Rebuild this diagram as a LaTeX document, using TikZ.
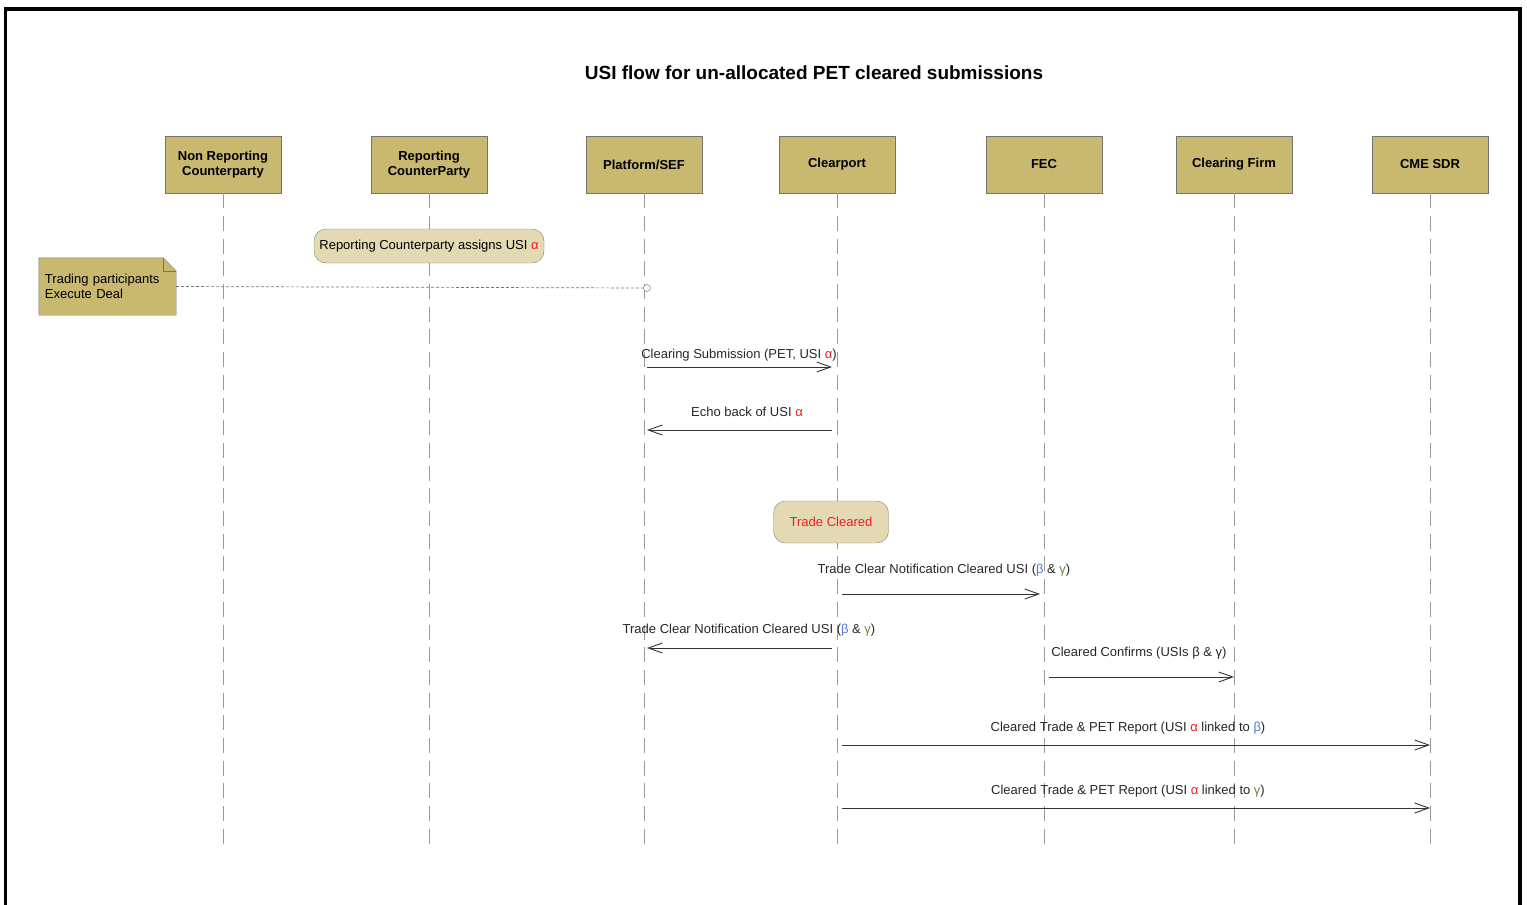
\documentclass[tikz,border=0pt]{standalone}
\usepackage{fontspec}
\setmainfont{Liberation Sans}
\usetikzlibrary{arrows.meta,positioning,calc,backgrounds}
\usepackage{xcolor}
\definecolor{boxtan}{RGB}{201,184,112}
\definecolor{paletan}{RGB}{227,218,180}
\definecolor{alphared}{RGB}{240,30,30}
\definecolor{betablue}{RGB}{80,120,210}
\definecolor{gammagreen}{RGB}{100,140,60}
\newcommand{\alred}{\textcolor{alphared}{α}}
\newcommand{\betblue}{\textcolor{betablue}{β}}
\newcommand{\gamgreen}{\textcolor{gammagreen}{γ}}

\begin{document}
\begin{tikzpicture}[
  x=1pt, y=-1pt,
  actor/.style={rectangle, draw=black!55, fill=boxtan, minimum width=116pt, minimum height=57pt, align=center, font=\fontsize{13}{15}\selectfont\bfseries},
  activity/.style={rectangle, draw=black!50, fill=paletan, rounded corners=12pt, minimum height=34pt, font=\fontsize{13}{15}\selectfont},
  notebox/.style={rectangle, minimum width=137pt, minimum height=57pt, text width=125pt, inner xsep=6pt, align=left, font=\fontsize{13}{15}\selectfont},
  lifeline/.style={draw=black!40, dash pattern=on 15pt off 7.7pt, line width=1pt},
  dotline/.style={draw=black!55, dash pattern=on 3pt off 2pt, line width=0.7pt},
  msg/.style={-{Straight Barb[length=14pt,width=10pt]}, draw=black!80, line width=0.9pt},
  lbl/.style={font=\fontsize{13}{15}\selectfont, inner sep=0pt, text=black!85}
]
  \useasboundingbox (0,0) rectangle (1527,905);
  \draw[line width=3.5pt] (5.5,905) -- (5.5,9) -- (1520,9) -- (1520,905);

  \node[font=\fontsize{19}{22}\selectfont\bfseries] (title) at (814,73) {USI flow for un-allocated PET cleared submissions};

  % actors
  \node[actor] (nrc) at (223,164.5) {Non Reporting\\Counterparty};
  \node[actor] (rc) at (429,164.5) {Reporting\\CounterParty};
  \node[actor] (sef) at (644,164.5) {Platform/SEF};
  \node[actor] (cp) at (837,164.5) {Clearport};
  \node[actor] (fec) at (1044,164.5) {FEC};
  \node[actor] (cf) at (1234,164.5) {Clearing Firm};
  \node[actor] (sdr) at (1430,164.5) {CME SDR};

  \coordinate (bottom) at (0,848);
  \foreach \a in {nrc,rc,sef,cp,fec,cf,sdr}
    \draw[lifeline] (\a.south) -- (\a.south |- bottom);

  \node[activity, minimum width=230pt] (assign) at (429,246) {Reporting Counterparty assigns USI \alred};
  \node[activity, minimum width=115pt, minimum height=42pt, text=alphared] (cleared) at (831,522) {Trade Cleared};

  % note
  \node[notebox] (note) at (107.5,286.5) {Trading participants\\Execute Deal};
  \begin{scope}[on background layer]
    \filldraw[fill=boxtan, draw=black!55] (note.north west) -- ([xshift=-13pt]note.north east) -- ([yshift=-13pt]note.north east) -- (note.south east) -- (note.south west) -- cycle;
  \end{scope}
  \draw[black!55] ([xshift=-13pt]note.north east) -- ([xshift=-13pt,yshift=-13pt]note.north east) -- ([yshift=-13pt]note.north east);
  \node[circle, draw=black!60, fill=white, inner sep=0pt, minimum size=7pt] (hit) at (647,288) {};
  \draw[dotline] (note.east) -- (hit.west);

  % messages
  \coordinate (m1) at (0,367);
  \coordinate (m2) at (0,430);
  \coordinate (m3) at (0,594);
  \coordinate (m4) at (0,648);
  \coordinate (m5) at (0,677);
  \coordinate (m6) at (0,745);
  \coordinate (m7) at (0,808);

  \draw[msg] ([xshift=3pt]sef.south |- m1) -- ([xshift=-5pt]cp.south |- m1);
  \node[lbl] (l1) at (739,355) {Clearing Submission (PET, USI \alred)};
  \draw[msg] ([xshift=-5pt]cp.south |- m2) -- ([xshift=3pt]sef.south |- m2);
  \node[lbl] (l2) at (747,412) {Echo back of USI \alred};
  \draw[msg] ([xshift=5pt]cp.south |- m3) -- ([xshift=-4pt]fec.south |- m3);
  \node[lbl] (l3) at (944,570) {Trade Clear Notification Cleared USI (\betblue{} \& \gamgreen)};
  \draw[msg] ([xshift=-5pt]cp.south |- m4) -- ([xshift=3pt]sef.south |- m4);
  \node[lbl] (l4) at (749,630) {Trade Clear Notification Cleared USI (\betblue{} \& \gamgreen)};
  \draw[msg] ([xshift=5pt]fec.south |- m5) -- (cf.south |- m5);
  \node[lbl] (l5) at (1139,653) {Cleared Confirms (USIs β \& γ)};
  \draw[msg] ([xshift=5pt]cp.south |- m6) -- (sdr.south |- m6);
  \node[lbl] (l6) at (1128,728) {Cleared Trade \& PET Report (USI \alred{} linked to \betblue)};
  \draw[msg] ([xshift=5pt]cp.south |- m7) -- (sdr.south |- m7);
  \node[lbl] (l7) at (1128,791) {Cleared Trade \& PET Report (USI \alred{} linked to \gamgreen)};
\end{tikzpicture}
\end{document}
